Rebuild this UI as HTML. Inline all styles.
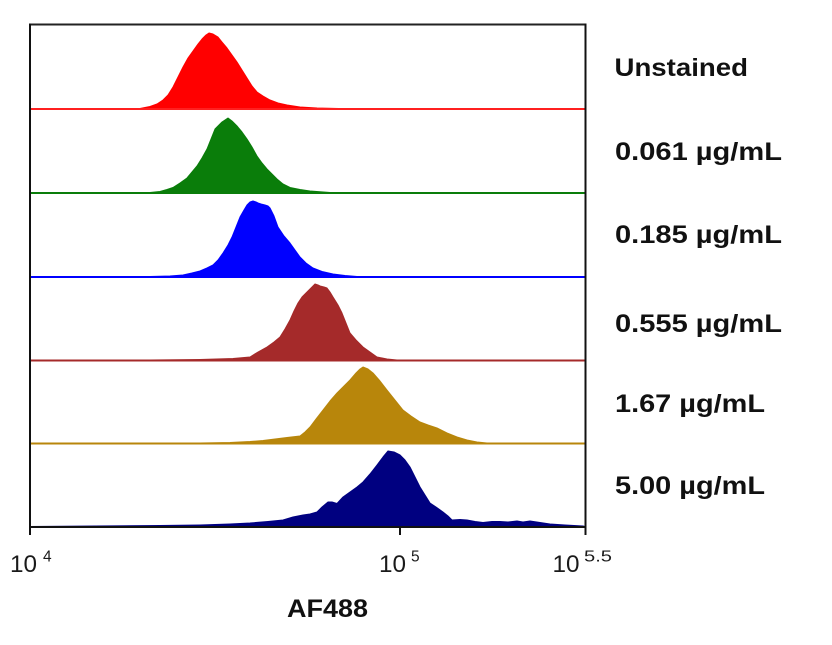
<!DOCTYPE html>
<html>
<head>
<meta charset="utf-8">
<style>
html,body{margin:0;padding:0;background:#fff;}
svg{display:block;}
</style>
</head>
<body>
<svg width="832" height="645" viewBox="0 0 832 645" xmlns="http://www.w3.org/2000/svg">
<rect x="0" y="0" width="832" height="645" fill="#fff"/>

<!-- Red: Unstained -->
<polygon fill="#ff0000" stroke="#ff0000" stroke-width="1" stroke-linejoin="round"
 points="30,109 140,108.5 150,106.5 157,104 163,100 168,95 173,87 178,77 183,67 188,58 193,51 198,44 202,39 206,35 209,33 213,34 218,37 222,42 227,48 232,55 237,62 242,70 247,78 252,86 257,92 263,96 270,100 278,103 287,105 300,107 317,108 360,109 585,109"/>
<line x1="30" y1="109" x2="585" y2="109" stroke="#ff2020" stroke-width="2"/>

<!-- Green: 0.061 -->
<polygon fill="#0a7d0a" stroke="#0a7d0a" stroke-width="1" stroke-linejoin="round"
 points="30,193 150,192.5 160,191.5 167,189.5 173,187.5 180,183 187,178 192,172 197,166 202,158 207,149 211,139 215,129 219,125 222,122 225,120 228,118 232,121 237,126 242,132 247,139 252,147 257,156 262,163 267,169 272,174 277,179 283,184 290,187.5 300,189.5 310,191 330,192.5 585,193"/>
<line x1="30" y1="193" x2="585" y2="193" stroke="#0a7d0a" stroke-width="2"/>

<!-- Blue: 0.185 -->
<polygon fill="#0000ff" stroke="#0000ff" stroke-width="1" stroke-linejoin="round"
 points="30,277 150,276.5 170,276 183,275 192,273 200,271 207,268 213,265 218,260 223,253 228,245 232,237 236,227 240,217 244,210 247,205 250,202 253,201 256,202 258,203 261,204 265,205 268,206 270,208 274,216 278,227 284,236 290,243 295,250 300,257 306,263 313,268 322,271.5 333,274 345,275.5 357,276.5 585,277"/>
<line x1="30" y1="277" x2="585" y2="277" stroke="#0000ff" stroke-width="2"/>

<!-- Maroon: 0.555 -->
<polygon fill="#a52a2a" stroke="#a52a2a" stroke-width="1" stroke-linejoin="round"
 points="30,360.5 150,360 200,359.5 233,358.5 250,357 258,352 267,347 274,342 280,337 285,329 290,320 294,311 298,303 302,297 307,292 311,288 315,284 318,285 320,286 324,287 327,288 330,292 333,297 338,305 342,313 346,323 350,333 356,340 363,347 370,352 377,357 387,359 397,360 585,360.5"/>
<line x1="30" y1="360.5" x2="585" y2="360.5" stroke="#a52a2a" stroke-width="2"/>

<!-- Gold: 1.67 -->
<polygon fill="#b8860b" stroke="#b8860b" stroke-width="1" stroke-linejoin="round"
 points="30,443.5 200,443 230,442.5 250,441.5 263,440.5 275,439 287,437.5 300,436 305,432 310,427 316,419 323,410 330,401 337,393 343,387 350,380 356,373 360,369 363,367 368,369 373,373 380,381 387,390 395,400 403,410 411,416 420,422 428,425 437,428 447,433 457,437 467,440 477,442 487,443 497,443.5 585,443.5"/>
<line x1="30" y1="443.5" x2="585" y2="443.5" stroke="#b8860b" stroke-width="2"/>

<!-- Navy: 5.00 -->
<polygon fill="#000080" stroke="#000080" stroke-width="1" stroke-linejoin="round"
 points="30,526.5 160,525.5 200,525 230,524 250,523 268,521.5 283,520 293,517 303,515 310,514 317,512 322,507 328,502 332,502 337,503.5 343,497 350,492 357,487 363,482 370,474 377,465 383,457 388,451 394,452 400,455 405,460 410,467 415,477 420,487 425,495 430,503 436,507 443,512 448,516 452,520 460,519.5 467,520 475,521.5 483,522.5 492,521.5 500,521.5 508,522 517,521 523,522 530,521 540,522.5 550,524 565,525 583,526 585,526.5"/>

<!-- Frame -->
<line x1="29" y1="24.5" x2="586.5" y2="24.5" stroke="#222" stroke-width="2"/>
<line x1="30" y1="23.5" x2="30" y2="535" stroke="#111" stroke-width="2"/>
<line x1="585.5" y1="23.5" x2="585.5" y2="535" stroke="#111" stroke-width="2"/>
<line x1="29" y1="527" x2="586.5" y2="527" stroke="#111" stroke-width="2"/>
<line x1="400" y1="527" x2="400" y2="535" stroke="#111" stroke-width="2"/>

<!-- Tick labels -->
<g font-family="Liberation Sans, Arial, sans-serif" fill="#1a1a1a">
  <text x="10" y="572" font-size="24" textLength="27" lengthAdjust="spacingAndGlyphs">10</text>
  <text x="43" y="561.5" font-size="15.5">4</text>
  <text x="379" y="572" font-size="24" textLength="27" lengthAdjust="spacingAndGlyphs">10</text>
  <text x="411" y="561.5" font-size="15.5">5</text>
  <text x="552.5" y="572" font-size="24" textLength="27" lengthAdjust="spacingAndGlyphs">10</text>
  <text x="584" y="561.5" font-size="15.5" textLength="28" lengthAdjust="spacingAndGlyphs">5.5</text>
</g>

<!-- X axis title -->
<text x="287" y="617" font-family="Liberation Sans, Arial, sans-serif" font-weight="bold" font-size="25" fill="#111" textLength="81" lengthAdjust="spacingAndGlyphs">AF488</text>

<!-- Right labels -->
<g font-family="Liberation Sans, Arial, sans-serif" font-weight="bold" font-size="25" fill="#111">
  <text x="614.5" y="76" textLength="133.5" lengthAdjust="spacingAndGlyphs">Unstained</text>
  <text x="615" y="160" textLength="167" lengthAdjust="spacingAndGlyphs">0.061 µg/mL</text>
  <text x="615" y="243" textLength="167" lengthAdjust="spacingAndGlyphs">0.185 µg/mL</text>
  <text x="615" y="332" textLength="167" lengthAdjust="spacingAndGlyphs">0.555 µg/mL</text>
  <text x="615" y="412" textLength="150" lengthAdjust="spacingAndGlyphs">1.67 µg/mL</text>
  <text x="615" y="494" textLength="150" lengthAdjust="spacingAndGlyphs">5.00 µg/mL</text>
</g>
</svg>
</body>
</html>
